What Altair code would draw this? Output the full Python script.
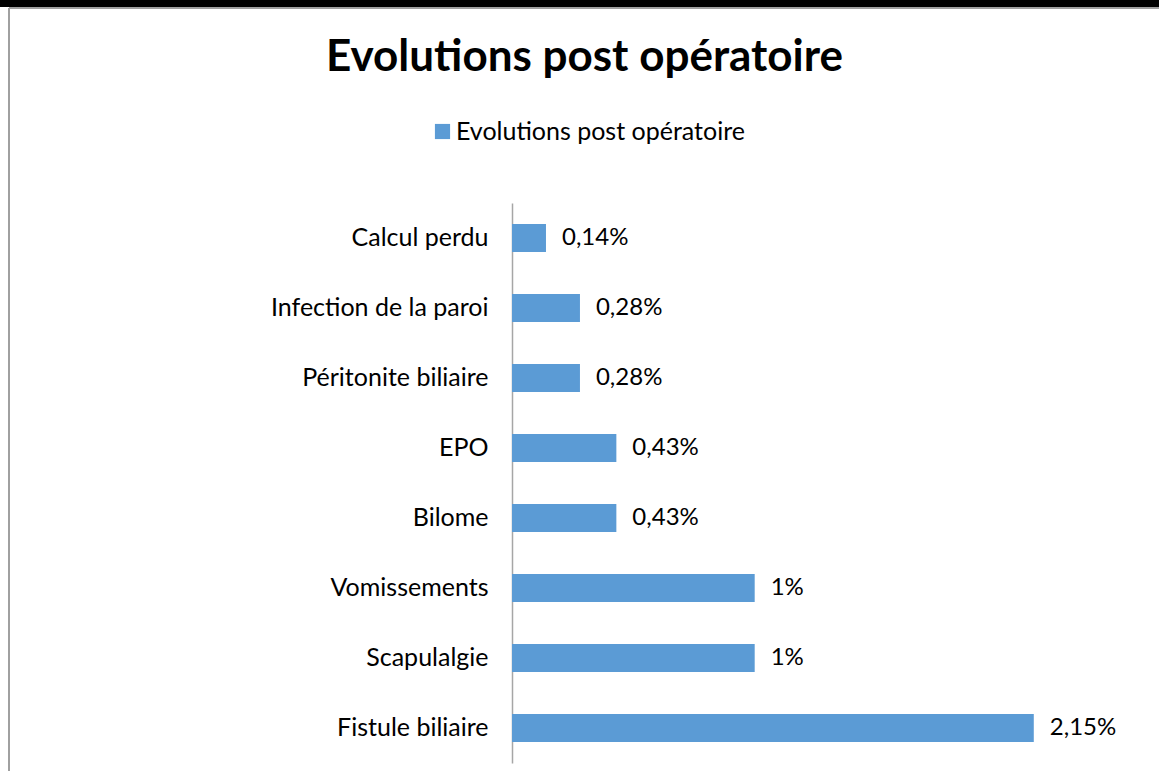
import altair as alt
import pandas as pd

categories = ["Calcul perdu", "Infection de la paroi", "Péritonite biliaire", "EPO",
              "Bilome", "Vomissements", "Scapulalgie", "Fistule biliaire"]
values = [0.14, 0.28, 0.28, 0.43, 0.43, 1.0, 1.0, 2.15]
labels = ["0,14%", "0,28%", "0,28%", "0,43%", "0,43%", "1%", "1%", "2,15%"]
series = "Evolutions post opératoire"

df = pd.DataFrame({"cat": categories, "val": values, "lab": labels, "series": series})

FONT = "Lato"
BLUE = "#5B9BD5"

y_enc = alt.Y("cat:N", sort=categories,
              scale=alt.Scale(paddingInner=0.6, paddingOuter=0.3),
              axis=alt.Axis(title=None, ticks=False, grid=False, domainColor="#A6A6A6",
                            domainWidth=1.5, labelFont=FONT, labelFontSize=25,
                            labelColor="#000000", labelPadding=24, labelLimit=400))
x_enc = alt.X("val:Q", scale=alt.Scale(domain=[0, 2.6], nice=False), axis=None)

bars = alt.Chart(df).mark_bar().encode(
    y=y_enc, x=x_enc,
    color=alt.Color("series:N", scale=alt.Scale(range=[BLUE]),
                    legend=alt.Legend(title=None, orient="none", legendX=-82, legendY=-84,
                                      symbolType="square", symbolSize=230, symbolStrokeWidth=0,
                                      labelFont=FONT, labelFontSize=25, labelColor="#000000",
                                      labelOffset=1, labelLimit=500)),
)

text = alt.Chart(df).mark_text(align="left", baseline="middle", dx=16, font=FONT,
                               fontSize=24, color="#000000").encode(
    y=alt.Y("cat:N", sort=categories), x=x_enc, text="lab:N")

# frame decorations
band = alt.Chart(df).mark_rule(color="#000000", strokeWidth=7).encode(
    x=alt.value(-512), x2=alt.value(647), y=alt.value(-200))
topline = alt.Chart(df).mark_rule(color="#A0A0A0", strokeWidth=1.5).encode(
    x=alt.value(-503), x2=alt.value(647), y=alt.value(-195))
leftline = alt.Chart(df).mark_rule(color="#A0A0A0", strokeWidth=1.5).encode(
    x=alt.value(-503), y=alt.value(-195), y2=alt.value(568))

chart = alt.layer(bars, text, band, topline, leftline).properties(
    width=631, height=560,
    title=alt.TitleParams(series, font=FONT, fontSize=44, fontWeight="bold", color="#000000",
                          anchor="middle", frame="group", dx=-243, dy=115,
                          baseline="alphabetic", offset=0),
    autosize=alt.AutoSizeParams(type="none"),
    padding={"left": 512, "top": 203, "right": 16, "bottom": 8},
    background="#FFFFFF",
).configure_view(stroke=None)

chart.save("out.html", embed_options={"renderer": "svg", "actions": False})
